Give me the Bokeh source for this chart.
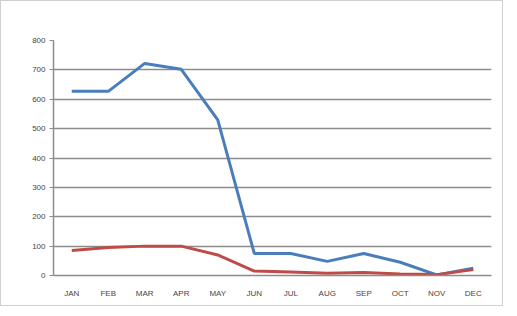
from bokeh.plotting import figure
from bokeh.models import FactorRange, Range1d, FixedTicker
from bokeh.embed import file_html
from bokeh.resources import INLINE

months = ["JAN", "FEB", "MAR", "APR", "MAY", "JUN", "JUL", "AUG", "SEP", "OCT", "NOV", "DEC"]
blue_values = [627, 627, 722, 702, 530, 75, 75, 48, 75, 45, 2, 25]
red_values = [85, 95, 100, 100, 70, 15, 12, 8, 10, 5, 3, 20]
y_ticks = [0, 100, 200, 300, 400, 500, 600, 700, 800]

p = figure(
    x_range=FactorRange(*months, range_padding=0),
    y_range=Range1d(0, 800),
    width=503, height=306,
    output_backend="svg", toolbar_location=None,
    min_border_left=52, min_border_right=13, min_border_top=39, min_border_bottom=32,
    background_fill_color="white", border_fill_color="white",
)
p.styles = {"border": "1px solid #d0d0d0"}
p.outline_line_color = None

p.line(months, blue_values, line_color="#4a7ebb", line_width=3)
p.line(months, red_values, line_color="#be4b48", line_width=3)

p.xgrid.grid_line_color = None
p.ygrid.grid_line_color = "#8c8c8c"
p.ygrid.grid_line_width = 1.5
p.yaxis.ticker = FixedTicker(ticks=y_ticks)

for ax in (p.xaxis, p.yaxis):
    ax.axis_line_color = "#8c8c8c"
    ax.axis_line_width = 1.5
    ax.major_label_text_font = "Liberation Sans"
    ax.major_label_text_font_size = "6pt"
    ax.major_label_text_color = "#444444"
    ax.minor_tick_line_color = None

p.yaxis.major_tick_line_color = "#8c8c8c"
p.yaxis.major_tick_out = 4
p.yaxis.major_tick_in = 0
p.yaxis.major_label_standoff = 4
p.xaxis.major_tick_line_color = None
p.xaxis.major_label_standoff = 7

open("out.html", "w").write(file_html(p, INLINE))
